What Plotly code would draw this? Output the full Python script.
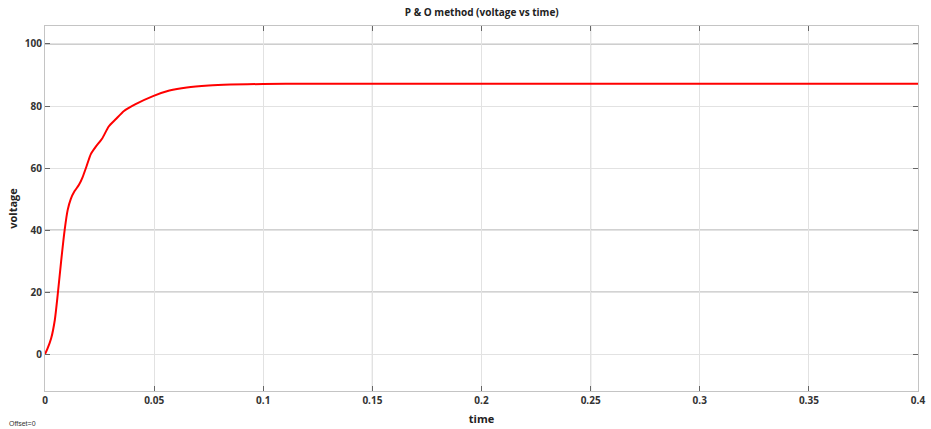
import plotly.graph_objects as go

time = [0, 0.001, 0.0028, 0.0045, 0.0058, 0.0074, 0.009, 0.0104, 0.0118, 0.0135,
        0.0155, 0.0172, 0.019, 0.021, 0.0232, 0.0262, 0.0292, 0.0325, 0.0362, 0.0415,
        0.0495, 0.057, 0.065, 0.075, 0.085, 0.1, 0.12, 0.15, 0.2, 0.25, 0.3, 0.35, 0.4]
voltage = [0, 1.5, 5, 11, 19, 30, 40, 46.5, 50, 52.5,
           54.5, 57, 60.5, 64.5, 66.8, 69.5, 73.4, 75.8, 78.4, 80.6,
           83.2, 85.0, 86.0, 86.6, 86.9, 87.1, 87.2, 87.2, 87.2, 87.2, 87.2, 87.2, 87.2]

x_ticks = [0, 0.05, 0.1, 0.15, 0.2, 0.25, 0.3, 0.35, 0.4]
x_tick_text = ["0", "0.05", "0.1", "0.15", "0.2", "0.25", "0.3", "0.35", "0.4"]
y_ticks = [0, 20, 40, 60, 80, 100]

FONT = "Open Sans"
fig = go.Figure()
fig.add_trace(go.Scatter(x=time, y=voltage, mode="lines",
                         line=dict(color="#ff0000", width=2, shape="spline", smoothing=0.6),
                         showlegend=False, hoverinfo="skip"))

fig.update_layout(
    width=931, height=429,
    margin=dict(l=45, r=13, t=26, b=38, autoexpand=False),
    paper_bgcolor="white", plot_bgcolor="white",
    title=dict(text="<b>P &amp; O method (voltage vs time)</b>", x=0.5175, xanchor="center",
               y=0.97, yanchor="middle", font=dict(family=FONT, size=10, color="#222")),
    font=dict(family=FONT, size=10, color="#333"),
)
common = dict(automargin=False, showgrid=True, gridcolor="#e2e2e2", gridwidth=1,
              showline=True, linecolor="#c4c4c4", mirror="allticks", zeroline=False,
              ticks="inside", ticklen=5, tickcolor="#666", tickwidth=1,
              tickfont=dict(family=FONT, size=10, color="#333", weight="bold"))
fig.update_xaxes(range=[0, 0.4], tickvals=x_ticks, ticktext=x_tick_text,
                 title=dict(text="<b>time</b>", font=dict(family=FONT, size=11, color="#222"), standoff=9),
                 **common)
fig.update_yaxes(range=[-11.9, 105.8], tickvals=y_ticks,
                 title=dict(text="<b>voltage</b>", font=dict(family=FONT, size=11, color="#222"), standoff=4),
                 **common)

# darker grid lines as in the reference scope image
for yv in [20, 40, 100]:
    fig.add_shape(type="line", xref="paper", yref="y", x0=0, x1=1, y0=yv, y1=yv,
                  line=dict(color="#9a9a9a", width=1), layer="below")
for xv in [0.15, 0.25]:
    fig.add_shape(type="line", xref="x", yref="paper", x0=xv, x1=xv, y0=0, y1=1,
                  line=dict(color="#9a9a9a", width=1), layer="below")

fig.add_annotation(text="Offset=0", xref="paper", yref="paper", x=-0.044, y=-0.09,
                   xanchor="left", yanchor="middle", showarrow=False,
                   font=dict(family="Liberation Sans", size=7, color="#333"))

fig.write_html("out.html", config={"displayModeBar": False},
               post_script="document.body.style.margin='0';document.body.style.overflow='hidden';")
